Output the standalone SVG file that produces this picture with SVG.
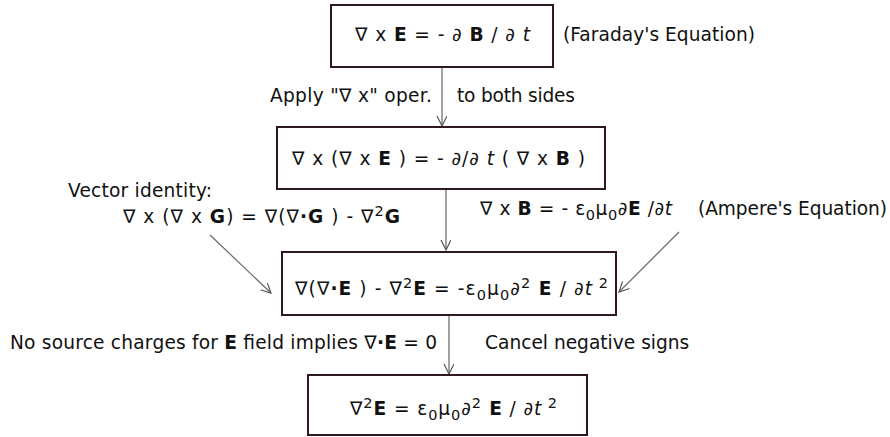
<svg xmlns="http://www.w3.org/2000/svg" width="890" height="437" viewBox="0 0 890 437">
<style>
text{font-family:"DejaVu Sans","Verdana",sans-serif;font-size:18.6px;fill:#111}
.box{fill:#fff;stroke:#2e1a1a;stroke-width:2}
.b{font-weight:bold}
.i{font-style:italic}
.sm{font-size:14.5px}
.conn{stroke:#666;stroke-width:1.2;fill:none}
</style>
<defs>
<marker id="ah" markerWidth="12" markerHeight="12" refX="10" refY="5" orient="auto" markerUnits="userSpaceOnUse">
<path d="M0,0 L10,5 L0,10" fill="none" stroke="#555" stroke-width="1.2"/>
</marker>
</defs>
<rect width="890" height="437" fill="#fff"/>
<g id="connectors">
<line class="conn" x1="442" y1="67" x2="442" y2="126" marker-end="url(#ah)"/>
<line class="conn" x1="446" y1="189" x2="446" y2="250" marker-end="url(#ah)"/>
<line class="conn" x1="449" y1="315" x2="449" y2="374" marker-end="url(#ah)"/>
<line class="conn" x1="210" y1="235" x2="271" y2="293" marker-end="url(#ah)"/>
<line class="conn" x1="679" y1="232" x2="619" y2="292" marker-end="url(#ah)"/>
</g>
<g id="faraday">
<rect class="box" x="331" y="5" width="222" height="62"/>
<text x="355" y="41" textLength="175" lengthAdjust="spacing">∇ x <tspan class="b">E</tspan> = - ∂ <tspan class="b">B</tspan> / ∂ <tspan class="i">t</tspan></text>
<text x="563" y="41" textLength="192" lengthAdjust="spacing">(Faraday's Equation)</text>
</g>
<g id="apply-label">
<text x="270" y="102" textLength="162" lengthAdjust="spacing">Apply "∇ x" oper.</text>
<text x="457" y="102" textLength="118" lengthAdjust="spacing">to both sides</text>
</g>
<g id="curl-curl">
<rect class="box" x="277" y="127" width="328" height="62"/>
<text x="292" y="165" textLength="293" lengthAdjust="spacing">∇ x (∇ x <tspan class="b">E</tspan> ) = - ∂/∂ <tspan class="i">t</tspan> ( ∇ x <tspan class="b">B</tspan> )</text>
</g>
<g id="vector-identity">
<text x="68" y="197" textLength="144" lengthAdjust="spacing">Vector identity:</text>
<text x="123" y="223" textLength="277" lengthAdjust="spacing">∇ x (∇ x <tspan class="b">G</tspan>) = ∇(∇<tspan class="b">·</tspan><tspan class="b">G</tspan> ) - ∇<tspan class="sm" dy="-7">2</tspan><tspan class="b" dy="7">G</tspan></text>
</g>
<g id="ampere">
<text x="480" y="215" textLength="192" lengthAdjust="spacing">∇ x <tspan class="b">B</tspan> = - ε<tspan class="sm" dy="5">0</tspan><tspan dy="-5">μ</tspan><tspan class="sm" dy="5">0</tspan><tspan dy="-5">∂</tspan><tspan class="b">E</tspan> /∂<tspan class="i">t</tspan></text>
<text x="698" y="215" textLength="189" lengthAdjust="spacing">(Ampere's Equation)</text>
</g>
<g id="combined">
<rect class="box" x="282" y="252" width="334" height="63"/>
<text x="295" y="295" textLength="313" lengthAdjust="spacing">∇(∇<tspan class="b">·</tspan><tspan class="b">E</tspan> ) - ∇<tspan class="sm" dy="-7">2</tspan><tspan class="b" dy="7">E</tspan> = -ε<tspan class="sm" dy="5">0</tspan><tspan dy="-5">μ</tspan><tspan class="sm" dy="5">0</tspan><tspan dy="-5">∂</tspan><tspan class="sm" dy="-7">2</tspan><tspan class="b" dy="7"> E</tspan> / ∂<tspan class="i">t</tspan><tspan class="sm" dy="-7"> 2</tspan></text>
</g>
<g id="source-label">
<text x="10" y="349" textLength="427" lengthAdjust="spacing">No source charges for <tspan class="b">E</tspan> field implies ∇<tspan class="b">·</tspan><tspan class="b">E</tspan> = 0</text>
<text x="485" y="349">Cancel negative signs</text>
</g>
<g id="wave">
<rect class="box" x="308" y="375" width="279" height="60"/>
<text x="350" y="415" textLength="207" lengthAdjust="spacing">∇<tspan class="sm" dy="-7">2</tspan><tspan class="b" dy="7">E</tspan> = ε<tspan class="sm" dy="5">0</tspan><tspan dy="-5">μ</tspan><tspan class="sm" dy="5">0</tspan><tspan dy="-5">∂</tspan><tspan class="sm" dy="-7">2</tspan><tspan class="b" dy="7"> E</tspan> / ∂<tspan class="i">t</tspan><tspan class="sm" dy="-7"> 2</tspan></text>
</g>
</svg>
